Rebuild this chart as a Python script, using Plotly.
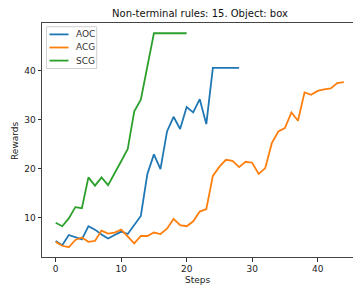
import plotly.graph_objects as go

series_names = ["AOC", "ACG", "SCG"]
series_colors = ["#1f77b4", "#ff7f0e", "#2ca02c"]

steps_aoc = list(range(29))
aoc = [5.2, 4.3, 6.4, 6.0, 5.5, 8.2, 7.5, 6.5, 5.7, 6.4, 7.1, 6.6, 8.4, 10.3, 18.9,
       22.9, 19.9, 27.6, 30.6, 28.1, 32.6, 31.5, 34.2, 29.1, 40.6, 40.6, 40.6, 40.6, 40.6]

steps_acg = list(range(45))
acg = [5.0, 4.2, 3.9, 5.4, 5.9, 5.0, 5.2, 7.3, 6.7, 6.9, 7.5, 6.2, 4.7, 6.2, 6.2,
       6.9, 6.6, 7.7, 9.7, 8.4, 8.2, 9.2, 11.2, 11.7, 18.5, 20.4, 21.8, 21.6, 20.3, 21.4,
       21.2, 18.9, 20.1, 25.2, 27.6, 28.3, 31.5, 29.8, 35.6, 35.1, 35.9, 36.2, 36.4, 37.5, 37.7]

steps_scg = list(range(21))
scg = [8.9, 8.2, 9.8, 12.1, 11.9, 18.2, 16.5, 18.2, 16.6, 19.2, 21.5, 24.0, 31.7, 34.1,
       40.9, 47.7, 47.7, 47.7, 47.7, 47.7, 47.7]

x_ticks = [0, 10, 20, 30, 40]
y_ticks = [10, 20, 30, 40]

W, H = 353, 288
L, R, T, B = 42, 0, 23, 31
pw = W - L - R
ph = H - T - B


def px_x(px):
    return (px - L) / pw


def px_y(py):
    return (H - B - py) / ph


fig = go.Figure()
for name, color, xs, ys in zip(series_names, series_colors,
                               [steps_aoc, steps_acg, steps_scg], [aoc, acg, scg]):
    fig.add_trace(go.Scatter(x=xs, y=ys, mode="lines", name=name,
                             line=dict(color=color, width=1.8)))

# legend box (drawn manually for matplotlib-like compact sizing)
shapes = [dict(type="rect", xref="paper", yref="paper",
               x0=px_x(46.5), x1=px_x(96.7), y0=px_y(68.5), y1=px_y(26.7),
               line=dict(color="#d0d0d0", width=1), fillcolor="rgba(255,255,255,0.8)",
               layer="above")]
annotations = []
for i, (name, color) in enumerate(zip(series_names, series_colors)):
    yy = 34.4 + 13.1 * i
    shapes.append(dict(type="line", xref="paper", yref="paper",
                       x0=px_x(49.5), x1=px_x(68.5), y0=px_y(yy), y1=px_y(yy),
                       line=dict(color=color, width=1.8), layer="above"))
    annotations.append(dict(text=name, xref="paper", yref="paper", x=px_x(73.5), y=px_y(yy),
                            xanchor="left", yanchor="middle", showarrow=False,
                            font=dict(size=9, color="#333")))

annotations += [
    dict(text="Steps", xref="paper", yref="paper", x=px_x(197), y=px_y(280),
         xanchor="center", yanchor="middle", showarrow=False, font=dict(size=9)),
    dict(text="Rewards", xref="paper", yref="paper", x=px_x(15), y=px_y(140),
         xanchor="center", yanchor="middle", showarrow=False, textangle=-90,
         font=dict(size=9)),
]

fig.update_layout(
    width=W, height=H,
    margin=dict(l=L, r=R, t=T, b=B, autoexpand=False),
    paper_bgcolor="white", plot_bgcolor="white",
    font=dict(family="DejaVu Sans", size=9, color="#222"),
    title=dict(text="Non-terminal rules: 15. Object: box", x=200/W, xanchor="center",
               y=1 - 13/H, yanchor="middle", font=dict(size=10, color="#111")),
    showlegend=False,
    xaxis=dict(range=[-2.09, 45.4], tickvals=x_ticks, ticks="outside", ticklen=3.5,
               tickcolor="#333", showgrid=False, zeroline=False, showline=True,
               linecolor="#444", linewidth=1, mirror=True, automargin=False),
    yaxis=dict(range=[1.9, 49.8], tickvals=y_ticks, ticks="outside", ticklen=3.5,
               tickcolor="#333", showgrid=False, zeroline=False, showline=True,
               linecolor="#444", linewidth=1, mirror=True, automargin=False),
    shapes=shapes,
    annotations=annotations,
)

fig.write_html("out.html", config={"displayModeBar": False},
               post_script="document.body.style.margin='0';document.body.style.overflow='hidden';")
